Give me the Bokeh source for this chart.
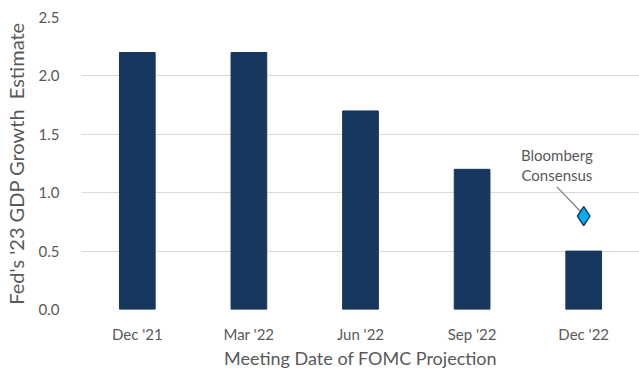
import math
from bokeh.plotting import figure
from bokeh.models import FixedTicker, Range1d
from bokeh.core.properties import value
from bokeh.embed import file_html
from bokeh.resources import INLINE

# FOMC projection meetings and the Fed's median 2023 GDP growth estimate
meetings = ["Dec '21", "Mar '22", "Jun '22", "Sep '22", "Dec '22"]
gdp_estimate = [2.2, 2.2, 1.7, 1.2, 0.5]

# Bloomberg consensus for 2023 GDP growth, shown at the latest meeting
consensus_meeting = "Dec '22"
consensus_value = 0.8

y_ticks = [0, 0.5, 1.0, 1.5, 2.0, 2.5]

FONT = "Lato"
BAR = "#17375E"
GRID = "#D9D9D9"
TEXT = "#595959"

W, H = 639, 371
BORDER_L, BORDER_R, BORDER_T, BORDER_B = 77, 0, 17, 58

xs = list(range(len(meetings)))
x_lo, x_hi = -0.5, len(meetings) - 0.5
y_lo, y_hi = 0.0, 2.5

p = figure(
    width=W, height=H,
    x_range=Range1d(x_lo, x_hi),
    y_range=Range1d(y_lo, y_hi),
    output_backend="svg", toolbar_location=None,
    min_border_left=BORDER_L, min_border_right=BORDER_R,
    min_border_top=BORDER_T, min_border_bottom=BORDER_B,
)
p.outline_line_color = None
p.background_fill_color = "white"
p.border_fill_color = "white"

p.vbar(x=xs, top=gdp_estimate, width=0.32, fill_color=BAR, line_color=BAR)

cx = meetings.index(consensus_meeting)

# leader line from the callout to the consensus marker, drawn as a thin
# filled strip about 1.3 px wide
x0, y0 = cx - 0.24, consensus_value + 0.25
x1, y1 = cx - 0.02, consensus_value + 0.03
px_per_x = (W - BORDER_L - BORDER_R) / (x_hi - x_lo)
px_per_y = (H - BORDER_T - BORDER_B - 2) / (y_hi - y_lo)
dxp, dyp = (x1 - x0) * px_per_x, (y1 - y0) * px_per_y
length = math.hypot(dxp, dyp)
half = 0.65
nx, ny = -dyp / length * half / px_per_x, dxp / length * half / px_per_y
p.patch(x=[x0 + nx, x1 + nx, x1 - nx, x0 - nx],
        y=[y0 + ny, y1 + ny, y1 - ny, y0 - ny],
        fill_color="#808080", line_color=None)

p.text(x=[cx - 0.24, cx - 0.24], y=[consensus_value + 0.52, consensus_value + 0.35],
       text=["Bloomberg", "Consensus"],
       text_font=value(FONT), text_font_size="15px", text_color=TEXT,
       text_align="center", text_baseline="middle")
p.scatter(x=[cx], y=[consensus_value], marker="diamond", size=19,
          fill_color="#00B0F0", line_color=BAR, line_width=1.5)

# axes
p.xaxis.ticker = FixedTicker(ticks=xs)
p.xaxis.major_label_overrides = {i: m for i, m in enumerate(meetings)}
p.yaxis.ticker = FixedTicker(ticks=y_ticks)
p.yaxis.major_label_overrides = {t: f"{t:.1f}" for t in y_ticks}

for ax in (p.xaxis, p.yaxis):
    ax.axis_line_color = None
    ax.major_tick_line_color = None
    ax.minor_tick_line_color = None
    ax.major_label_text_font = FONT
    ax.major_label_text_font_size = "15px"
    ax.major_label_text_color = TEXT
    ax.axis_label_text_font = FONT
    ax.axis_label_text_font_style = "normal"
    ax.axis_label_text_color = TEXT

p.xaxis.axis_label = "Meeting Date of FOMC Projection"
p.yaxis.axis_label = "Fed's '23 GDP Growth\u00a0 Estimate"
p.xaxis.axis_label_text_font_size = "18px"
p.yaxis.axis_label_text_font_size = "20px"
p.xaxis.major_label_standoff = 9
p.xaxis.axis_label_standoff = 1
p.yaxis.major_label_standoff = 16
p.yaxis.axis_label_standoff = 8

p.xgrid.grid_line_color = None
p.ygrid.grid_line_color = GRID
p.ygrid.ticker = FixedTicker(ticks=y_ticks)

open("out.html", "w").write(file_html(p, INLINE))
